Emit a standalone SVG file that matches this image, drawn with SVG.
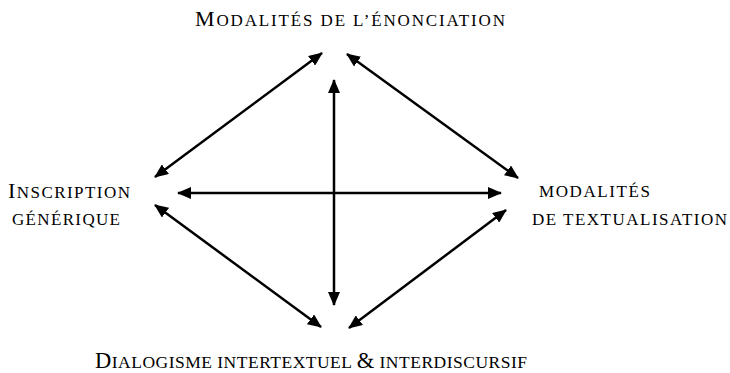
<svg xmlns="http://www.w3.org/2000/svg" width="730" height="373" viewBox="0 0 730 373">
<defs>
<marker id="ah" viewBox="0 0 14 12" refX="13" refY="6" markerWidth="14" markerHeight="12" markerUnits="userSpaceOnUse" orient="auto-start-reverse">
<path d="M0,0 L14,6 L0,12 Z" fill="#000"/>
</marker>
<style>
.lbl{font-family:"Liberation Serif","Times New Roman",serif;fill:#000;font-size:17px}
.cap{font-size:22px}
.con line{stroke:#000;stroke-width:2.5;marker-start:url(#ah);marker-end:url(#ah)}
</style>
</defs>
<rect width="730" height="373" fill="#fff"/>
<g class="con" id="connectors">
<line x1="155" y1="177" x2="322" y2="53"/>
<line x1="347" y1="54" x2="518" y2="178"/>
<line x1="155" y1="205" x2="321" y2="327"/>
<line x1="349" y1="328" x2="506" y2="210"/>
<line x1="334" y1="80" x2="334" y2="305"/>
<line x1="178" y1="193" x2="501" y2="193"/>
</g>
<g id="n-enonciation">
<text class="lbl" x="195" y="26" textLength="310" lengthAdjust="spacing"><tspan class="cap">M</tspan>ODALITÉS DE L’ÉNONCIATION</text>
</g>
<g id="n-inscription">
<text class="lbl" x="8" y="198" textLength="122" lengthAdjust="spacing"><tspan class="cap">I</tspan>NSCRIPTION</text>
<text class="lbl" x="12" y="225" textLength="108" lengthAdjust="spacing">GÉNÉRIQUE</text>
</g>
<g id="n-textualisation">
<text class="lbl" x="539" y="197" textLength="111" lengthAdjust="spacing">MODALITÉS</text>
<text class="lbl" x="532" y="225" textLength="195" lengthAdjust="spacing">DE TEXTUALISATION</text>
</g>
<g id="n-dialogisme">
<text class="lbl" x="95" y="368" textLength="432" lengthAdjust="spacing" style="font-size:17.5px"><tspan style="font-size:22.5px">D</tspan>IALOGISME INTERTEXTUEL <tspan style="font-size:22.5px">&amp;</tspan> INTERDISCURSIF</text>
</g>
</svg>
